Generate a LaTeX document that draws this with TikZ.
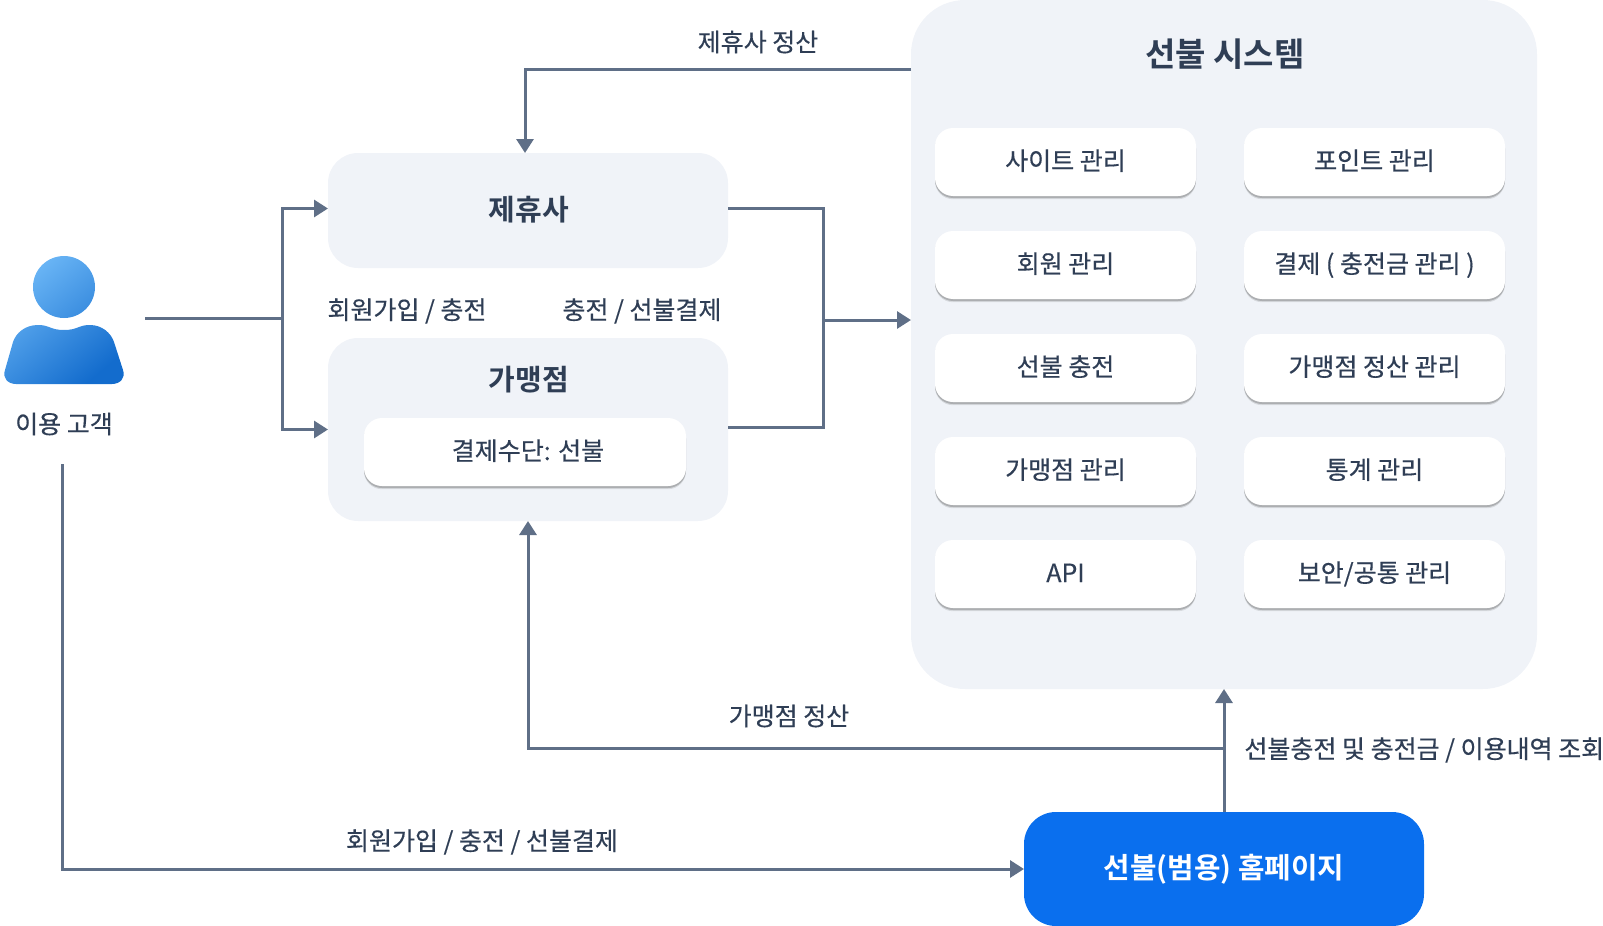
\documentclass[tikz,border=0pt]{standalone}
\usepackage{fontspec}
\setmainfont[FakeBold=0.4]{Noto Sans CJK KR}
\newfontfamily\boldkr[BoldFont={}]{Noto Sans CJK KR Bold}
\usetikzlibrary{arrows.meta, positioning, shadows}
\definecolor{inkc}{HTML}{2F3E55}
\definecolor{linec}{HTML}{5F6F87}
\definecolor{panelc}{HTML}{F0F3F8}
\definecolor{homec}{HTML}{0A6FEE}
\definecolor{userlt}{HTML}{6DB8F7}
\definecolor{userdk}{HTML}{136CCD}
\begin{document}
\begin{tikzpicture}[x=0.5pt, y=-0.5pt, font=\fontsize{12.5}{14}\selectfont, text=inkc,
  >={Triangle[length=7pt, width=8.5pt]},
  link/.style={draw=linec, line width=1.5pt},
  panel/.style={fill=panelc, inner sep=0pt, outer sep=0pt},
  card/.style={fill=white, rounded corners=9pt, inner sep=0pt, outer sep=0pt, minimum width=130.5pt, minimum height=34pt,
    text height=10pt, text depth=2pt,
    drop shadow={shadow xshift=0pt, shadow yshift=-1.6pt, fill=black, opacity=0.1},
    drop shadow={shadow xshift=0pt, shadow yshift=-1pt, fill=black, opacity=0.2}},
  head/.style={font=\boldkr\fontsize{14.5}{16}\selectfont},
  tag/.style={inner sep=0pt}]
\useasboundingbox (0,0) rectangle (1603,926);
% panels
\node[panel, rounded corners=27pt, minimum width=313pt, minimum height=344.5pt] (sys) at (1224,344.5) {};
\node[panel, rounded corners=15pt, minimum width=200pt, minimum height=57.5pt] (partner) at (528,210.5) {};
\node[panel, rounded corners=15pt, minimum width=200pt, minimum height=91.5pt] (shop) at (528,429.5) {};
\node[fill=homec, rounded corners=16pt, inner sep=0pt, outer sep=0pt, minimum width=200pt, minimum height=57pt,
  text=white, font=\boldkr\fontsize{14.4}{16}\selectfont] (home) at (1224,869) {선불(범용) 홈페이지};
% titles
\node[head, font=\boldkr\fontsize{16.5}{18}\selectfont] (systitle) at (1225,54) {선불 시스템};
\node[head] (partnertitle) at (529,210) {제휴사};
\node[head] (shoptitle) at (529,380) {가맹점};
\node[card, minimum width=161pt] (pay) at (525,452) {\hspace{3pt}결제수단: 선불};
% cards
\node[card] (c1) at (1065.5,162) {사이트 관리};
\node[card, right=24pt of c1] (d1) {포인트 관리};
\node[card, below=17.5pt of c1] (c2) {회원 관리};
\node[card, right=24pt of c2] (d2) {결제 ( 충전금 관리 )};
\node[card, below=17.5pt of c2] (c3) {선불 충전};
\node[card, right=24pt of c3] (d3) {가맹점 정산 관리};
\node[card, below=17.5pt of c3] (c4) {가맹점 관리};
\node[card, right=24pt of c4] (d4) {통계 관리};
\node[card, below=17.5pt of c4] (c5) {API};
\node[card, right=24pt of c5] (d5) {보안/공통 관리};
% user
\shade[left color=userlt, right color=userdk, shading angle=40]
  (64,287) circle (31)
  (38,325) .. controls (25,325) and (16,333) .. (13,342)
  -- (5,370) .. controls (2,378) and (8,384) .. (16,384)
  -- (112,384) .. controls (120,384) and (126,378) .. (123,370)
  -- (114,342) .. controls (111,333) and (102,325) .. (90,325)
  .. controls (78,325) and (78,330) .. (64,330)
  .. controls (50,330) and (50,325) .. (38,325) -- cycle;
\node[tag] (user) at (64,424) {이용 고객};
\coordinate (userout) at (145,318);
\coordinate (userjoin) at (282,318);
\coordinate (userdown) at (62,464);
\coordinate (sysjoin) at (823,320);
\coordinate (homejoin) at (1224,748);
% links
\draw[link] (userout) -- (userjoin);
\draw[link, ->] (userjoin) |- ([yshift=1pt]partner.west);
\draw[link, ->] (userjoin) |- (shop.west);
\draw[link] ([yshift=1pt]partner.east) -| (sysjoin) |- ([yshift=1pt]shop.east);
\draw[link, ->] (sysjoin) -- (sysjoin -| sys.west);
\draw[link, ->] (sys.west |- 0,69) -| ([xshift=-1.5pt]partner.north);
\draw[link, ->] (home.north) -- (sys.south);
\draw[link, ->] (homejoin) -| (shop.south);
\draw[link, ->] (userdown) |- (home.west);
% labels
\node[tag] (lbl1) at (758,42) {제휴사 정산};
\node[tag] (lbl2) at (407,311) {회원가입 / 충전};
\node[tag] (lbl3) at (642,311) {충전 / 선불결제};
\node[tag] (lbl4) at (789,716) {가맹점 정산};
\node[tag, anchor=west] (lbl5) at (1244,750) {선불충전 및 충전금 / 이용내역 조회};
\node[tag] (lbl6) at (482,842) {회원가입 / 충전 / 선불결제};
\end{tikzpicture}
\end{document}
